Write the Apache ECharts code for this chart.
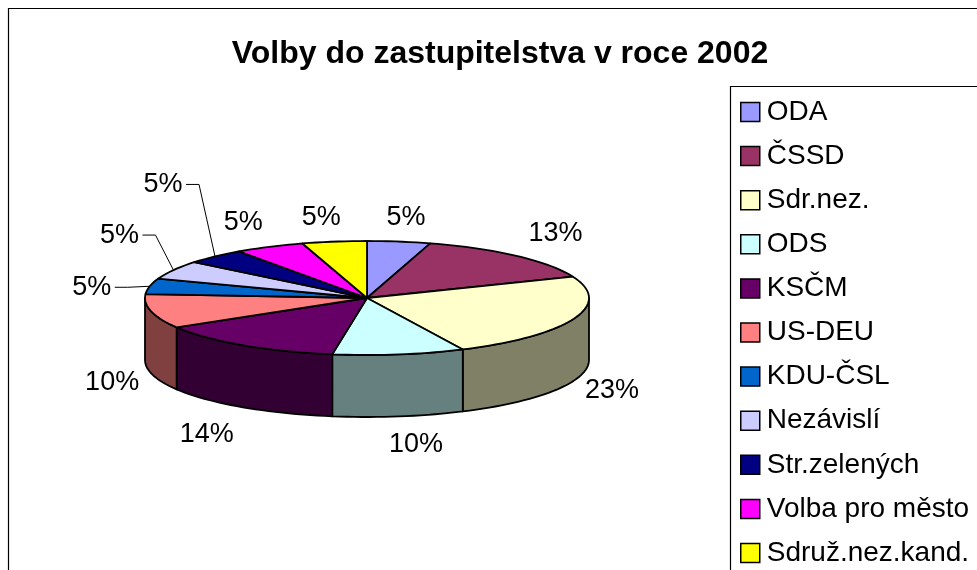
<!DOCTYPE html>
<html>
<head>
<meta charset="utf-8">
<style>html,body{margin:0;padding:0;background:#fff;overflow:hidden}#c{width:977px;height:570px}</style>
<script src="https://cdn.jsdelivr.net/npm/echarts@6/dist/echarts.min.js"></script>
</head>
<body>
<div id="c"></div>
<script>
// Data
const titleText = 'Volby do zastupitelstva v roce 2002';
const parties = ['ODA','ČSSD','Sdr.nez.','ODS','KSČM','US-DEU','KDU-ČSL','Nezávislí','Str.zelených','Volba pro město','Sdruž.nez.kand.'];
// Slice sizes as drawn (the original's 3-D view widens front slices a little compared with the printed labels)
const sliceShares = [4.6,14.3,24.0,9.6,13.9,9.7,4.4,5.3,4.4,5.1,4.7];
const percentLabels = ['5%','13%','23%','10%','14%','10%','5%','5%','5%','5%','5%'];
const sliceColors = ['#9999FF','#993366','#FFFFCC','#CCFFFF','#660066','#FF8080','#0066CC','#CCCCFF','#000080','#FF00FF','#FFFF00'];
const wallColors = ['#4D4D80','#4D1A33','#808066','#668080','#330033','#804040','#003366','#666680','#000040','#800080','#808000'];

// Layout
const FONT = '"Liberation Sans", Arial, sans-serif';
const CX = 367, CY = 298, RX = 222, RY = 57, DEPTH = 62;
// label offset from the rim point at each slice's mid-angle
const labelOffsets = [[7,-24],[39,-22],[38,72],[17,90.6],[-36,89],[-39,71],[-58,1],[-54,-35],[-52,-72],[-26,-24],[-13,-24]];
const leaderFlags = [0,0,0,0,0,0,1,1,1,0,0];

const total = sliceShares.reduce((a,b)=>a+b,0);
const rad = d => d*Math.PI/180;
const rim = (deg, drop) => [CX + RX*Math.sin(rad(deg)), CY - RY*Math.cos(rad(deg)) + (drop||0)];
const arc = (a,b,drop) => { const pts=[]; const n=Math.max(2,Math.ceil((b-a)/2)); for(let i=0;i<=n;i++) pts.push(rim(a+(b-a)*i/n,drop)); return pts; };

function renderSlice(params, api){
  const i = params.seriesIndex;
  const before = sliceShares.slice(0,i).reduce((a,b)=>a+b,0);
  const a1 = before/total*360;
  const a2 = a1 + api.value(0)/total*360;
  const mid = (a1+a2)/2;
  const stroke = {stroke:'#000', lineWidth:1.8, lineJoin:'round'};
  const children = [];
  const w1 = Math.max(a1,90), w2 = Math.min(a2,270);
  if (w2 > w1) {
    children.push({type:'polygon', shape:{points:arc(w1,w2,0).concat(arc(w1,w2,DEPTH).reverse())}, style:Object.assign({fill:wallColors[i]},stroke)});
  }
  children.push({type:'polygon', shape:{points:[[CX,CY]].concat(arc(a1,a2,0))}, style:Object.assign({fill:sliceColors[i]},stroke)});
  const anchor = rim(mid,0);
  const lx = anchor[0]+labelOffsets[i][0], ly = anchor[1]+labelOffsets[i][1];
  if (leaderFlags[i]) {
    children.push({type:'polyline', shape:{points:[[lx+23,ly],[lx+36,ly],anchor]}, style:{stroke:'#000',lineWidth:1,fill:null}});
  }
  children.push({type:'text', style:{x:lx,y:ly,text:percentLabels[i],fill:'#000',fontSize:27,fontFamily:FONT,align:'center',verticalAlign:'middle'}});
  return {type:'group', children};
}

const chart = echarts.init(document.getElementById('c'), null, {renderer:'canvas'});
chart.setOption({
  animation:false,
  backgroundColor:'#fff',
  color:sliceColors,
  title:{text:titleText,left:495,top:33,textAlign:'center',textStyle:{fontFamily:FONT,fontWeight:'bold',fontSize:32,color:'#000'}},
  legend:{
    orient:'vertical',left:740,top:98,height:560,width:235,padding:0,
    icon:'rect',itemWidth:19,itemHeight:19,itemGap:16.1,selectedMode:false,
    itemStyle:{borderColor:'#000',borderWidth:1.5},
    textStyle:{fontFamily:FONT,fontSize:28,color:'#000',padding:[0,0,0,2],lineHeight:19},
    data:parties
  },
  graphic:[
    {type:'rect',silent:true,z:-10,shape:{x:8.5,y:8.5,width:1100,height:700},style:{fill:'#fff',stroke:'#000',lineWidth:1.2}},
    {type:'rect',silent:true,z:-9,shape:{x:730.5,y:86.5,width:400,height:600},style:{fill:'#fff',stroke:'#000',lineWidth:1.2}}
  ],
  series:parties.map((name,i)=>({type:'custom',name,coordinateSystem:'none',renderItem:renderSlice,silent:true,data:[[sliceShares[i]]],itemStyle:{color:sliceColors[i]},clip:false}))
});
</script>
</body>
</html>
